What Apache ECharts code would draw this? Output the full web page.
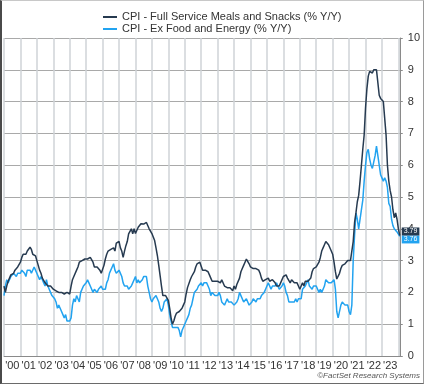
<!DOCTYPE html>
<html>
<head>
<meta charset="utf-8">
<script src="https://cdn.jsdelivr.net/npm/echarts@6/dist/echarts.min.js"></script>
<style>
html,body{margin:0;padding:0;background:#fff;}
#frame{position:absolute;left:0;top:0;width:424px;height:384px;box-sizing:border-box;
  border-left:2px solid #4a4a4a;border-top:1px solid #c8c8c8;border-right:1px solid #9a9a9a;border-bottom:1px solid #6a6a6a;}
#chart{width:421px;height:382px;}
</style>
</head>
<body>
<div id="frame"><div id="chart"></div></div>
<script>
// Monthly series, Jan 2000 .. Feb 2024 (% Y/Y)
const startYear = 2000;
const seriesNames = ['CPI - Full Service Meals and Snacks (% Y/Y)', 'CPI - Ex Food and Energy (% Y/Y)'];
const fullServiceMeals = [
  2.2, 2.0, 2.2, 2.35, 2.45, 2.55, 2.5, 2.6, 2.7, 2.75, 2.8, 2.85,
  2.95, 3.1, 3.2, 3.15, 3.2, 3.3, 3.3, 3.42, 3.35, 3.2, 3.25, 3.15,
  3.0, 2.85, 2.7, 2.6, 2.45, 2.4, 2.3, 2.25, 2.2, 2.15, 2.2, 2.15,
  2.1, 2.1, 2.05, 2.05, 2.0, 2.05, 2.0, 2.0, 1.95, 1.95, 2.0, 1.95,
  1.95, 2.2, 2.4, 2.5, 2.5, 2.7, 2.8, 2.95, 3.0, 3.0, 3.05, 3.05,
  3.05, 3.05, 3.1, 3.1, 3.1, 2.95, 2.8, 2.75, 2.8, 2.75, 2.7, 2.6,
  2.65, 2.85, 3.05, 3.2, 3.3, 3.35, 3.35, 3.3, 3.4, 3.3, 3.55, 3.5,
  3.6, 3.4, 3.3, 3.1, 3.3, 3.47, 3.6, 3.84, 3.9, 4.0, 3.84, 4.0,
  3.85, 3.9, 4.05, 4.1, 4.16, 4.1, 4.15, 4.2, 4.2, 4.23, 4.0, 3.95,
  3.85, 3.74, 3.63, 3.4, 3.16, 2.85, 2.53, 2.2, 1.9, 1.95, 1.9, 1.85,
  1.75, 1.5, 1.2, 1.0, 1.1, 1.25, 1.35, 1.4, 1.4, 1.4, 1.5, 1.6,
  1.7, 1.95, 2.15, 2.2, 2.4, 2.5, 2.55, 2.65, 2.8, 2.9, 2.95, 2.95,
  2.9, 2.7, 2.75, 2.7, 2.75, 2.65, 2.55, 2.45, 2.35, 2.4, 2.35, 2.4,
  2.35, 2.4, 2.3, 2.4, 2.35, 2.2, 2.2, 2.15, 2.1, 2.15, 2.1, 2.05,
  2.2, 2.1, 2.25, 2.3, 2.45, 2.65, 2.75, 2.85, 2.95, 3.05, 3.0, 2.9,
  2.8, 2.8, 2.75, 2.75, 2.75, 2.75, 2.7, 2.6, 2.45, 2.35, 2.35, 2.4,
  2.35, 2.45, 2.35, 2.4, 2.4, 2.35, 2.3, 2.2, 2.2, 2.2, 2.3, 2.35,
  2.5, 2.55, 2.55, 2.45, 2.4, 2.3, 2.4, 2.35, 2.3, 2.35, 2.3, 2.2,
  2.1, 2.2, 2.3, 2.2, 2.35, 2.4, 2.35, 2.4, 2.45, 2.65, 2.75, 2.8,
  2.8, 2.85, 2.95, 3.1, 3.3, 3.4, 3.5, 3.6, 3.55, 3.5, 3.45, 3.3,
  3.2, 2.95, 2.65, 2.42, 2.47, 2.6, 2.75, 2.85, 2.8, 2.9, 2.95, 3.0,
  2.95, 3.0, 3.05, 3.6, 4.2, 4.5, 4.85, 5.05, 5.5, 6.0, 6.5, 6.95,
  7.8, 8.4, 8.8, 8.95, 9.0, 8.9, 9.0, 8.95, 9.0, 8.95, 8.2, 8.1,
  8.05, 8.0, 8.0, 6.95, 6.0, 5.5, 5.2, 5.0, 4.6, 4.35, 4.5, 4.3,
  4.0, 3.79
];
const coreCpi = [
  1.9, 2.2, 2.4, 2.3, 2.4, 2.5, 2.5, 2.6, 2.6, 2.5, 2.6, 2.6,
  2.6, 2.7, 2.7, 2.6, 2.5, 2.7, 2.7, 2.7, 2.6, 2.6, 2.8, 2.7,
  2.6, 2.6, 2.4, 2.5, 2.5, 2.3, 2.2, 2.4, 2.2, 2.2, 2.0, 1.9,
  1.9, 1.8, 1.7, 1.5, 1.6, 1.5, 1.5, 1.3, 1.2, 1.3, 1.1, 1.1,
  1.1, 1.2, 1.6, 1.8, 1.7, 1.9, 1.8, 1.7, 2.0, 2.0, 2.2, 2.2,
  2.3, 2.4, 2.3, 2.2, 2.2, 2.0, 2.1, 2.1, 2.0, 2.1, 2.1, 2.2,
  2.1, 2.1, 2.1, 2.3, 2.4, 2.6, 2.7, 2.8, 2.9, 2.7, 2.6, 2.6,
  2.7, 2.7, 2.5, 2.3, 2.2, 2.2, 2.2, 2.1, 2.1, 2.2, 2.3, 2.4,
  2.5, 2.3, 2.4, 2.3, 2.3, 2.4, 2.5, 2.5, 2.5, 2.2, 2.0, 1.8,
  1.7, 1.8, 1.8, 1.9, 1.8, 1.7, 1.5, 1.4, 1.5, 1.7, 1.7, 1.8,
  1.6, 1.3, 1.1, 0.9, 0.9, 0.9, 0.9, 0.9, 0.8, 0.6, 0.8, 0.8,
  1.0, 1.1, 1.2, 1.3, 1.5, 1.6, 1.8, 2.0, 2.0, 2.1, 2.2, 2.2,
  2.3, 2.2, 2.3, 2.3, 2.3, 2.2, 2.1, 1.9, 2.0, 2.0, 1.9, 1.9,
  1.9, 2.0, 1.9, 1.7, 1.7, 1.6, 1.7, 1.8, 1.7, 1.7, 1.7, 1.7,
  1.6, 1.6, 1.7, 1.8, 2.0, 1.9, 1.9, 1.7, 1.7, 1.8, 1.7, 1.6,
  1.6, 1.7, 1.8, 1.8, 1.7, 1.8, 1.8, 1.8, 1.9, 1.9, 2.0, 2.1,
  2.2, 2.3, 2.2, 2.1, 2.2, 2.2, 2.2, 2.3, 2.2, 2.1, 2.1, 2.2,
  2.3, 2.2, 2.0, 1.9, 1.7, 1.7, 1.7, 1.7, 1.7, 1.8, 1.7, 1.8,
  1.8, 1.8, 2.1, 2.1, 2.2, 2.3, 2.4, 2.2, 2.2, 2.1, 2.2, 2.2,
  2.2, 2.1, 2.0, 2.1, 2.0, 2.1, 2.2, 2.4, 2.4, 2.3, 2.3, 2.3,
  2.3, 2.4, 2.1, 1.4, 1.2, 1.2, 1.6, 1.7, 1.7, 1.6, 1.6, 1.6,
  1.4, 1.3, 1.6, 3.0, 3.8, 4.5, 4.3, 4.0, 4.0, 4.6, 4.9, 5.5,
  6.0, 6.4, 6.5, 6.2, 6.0, 5.9, 5.9, 6.3, 6.6, 6.3, 6.0, 5.7,
  5.6, 5.5, 5.6, 5.5, 5.3, 4.8, 4.7, 4.3, 4.1, 4.0, 4.0, 3.9,
  3.9, 3.76
];
const yearLabels = ["'00","'01","'02","'03","'04","'05","'06","'07","'08","'09","'10","'11",
  "'12","'13","'14","'15","'16","'17","'18","'19","'20","'21","'22","'23"];
const yTicks = [0,1,2,3,4,5,6,7,8,9,10];

const colors = ['#263a50', '#22a3f0'];
const toPairs = arr => arr.map((v, i) => [startYear + i / 12, v]);
const lastX = startYear + (fullServiceMeals.length - 1) / 12;
const font = "'Liberation Sans', Arial, sans-serif";

const chart = echarts.init(document.getElementById('chart'), null, {renderer: 'canvas'});
chart.setOption({
  animation: false,
  textStyle: {fontFamily: font},
  legend: {
    orient: 'vertical', left: 96, top: 5, itemGap: 0,
    icon: 'rect', itemWidth: 14, itemHeight: 2,
    textStyle: {fontSize: 11, lineHeight: 12, color: '#333', fontFamily: font},
    data: seriesNames
  },
  grid: {left: 2, right: 19, top: 37, bottom: 27, containLabel: false},
  xAxis: {
    type: 'value', min: startYear, max: lastX, interval: 1,
    axisLine: {show: true, lineStyle: {color: '#8a8a8a', width: 1}},
    axisTick: {show: false},
    splitLine: {show: true, lineStyle: {color: '#cfd3d7', width: 1.5}},
    axisLabel: {
      showMaxLabel: false, showMinLabel: true,
      fontSize: 11, color: '#333', margin: 4, fontFamily: font,
      padding: [0, 0, 0, 16.6],
      formatter: v => { const i = Math.round(v - startYear); return yearLabels[i] || ''; }
    }
  },
  yAxis: {
    type: 'value', position: 'right', min: yTicks[0], max: yTicks[yTicks.length - 1], interval: 1,
    axisLine: {show: true, lineStyle: {color: '#8a8a8a', width: 1}},
    axisTick: {show: true, length: 3, lineStyle: {color: '#8a8a8a'}},
    splitLine: {show: true, lineStyle: {color: '#a9a9a9', width: 1}},
    axisLabel: {fontSize: 11, color: '#333', margin: 8, fontFamily: font}
  },
  series: [
    {
      name: seriesNames[0], type: 'line', data: toPairs(fullServiceMeals),
      showSymbol: false, symbol: 'none', color: colors[0],
      lineStyle: {width: 1.5, color: colors[0]}, z: 3,
      endLabel: {show: true, formatter: p => p.value[1].toFixed(2), backgroundColor: colors[0],
        color: '#fff', fontSize: 7, padding: [1, 2, 0, 2], distance: 2, offset: [0, -4], fontFamily: font}
    },
    {
      name: seriesNames[1], type: 'line', data: toPairs(coreCpi),
      showSymbol: false, symbol: 'none', color: colors[1],
      lineStyle: {width: 1.5, color: colors[1]}, z: 2,
      endLabel: {show: true, formatter: p => p.value[1].toFixed(2), backgroundColor: colors[1],
        color: '#fff', fontSize: 7, padding: [1, 2, 0, 2], distance: 2, offset: [0, 3], fontFamily: font}
    }
  ],
  graphic: [{
    type: 'text', right: 3, bottom: 3,
    style: {text: '©FactSet Research Systems', font: "italic 8px 'Liberation Sans', Arial, sans-serif", fill: '#555'}
  }]
});
</script>
</body>
</html>
